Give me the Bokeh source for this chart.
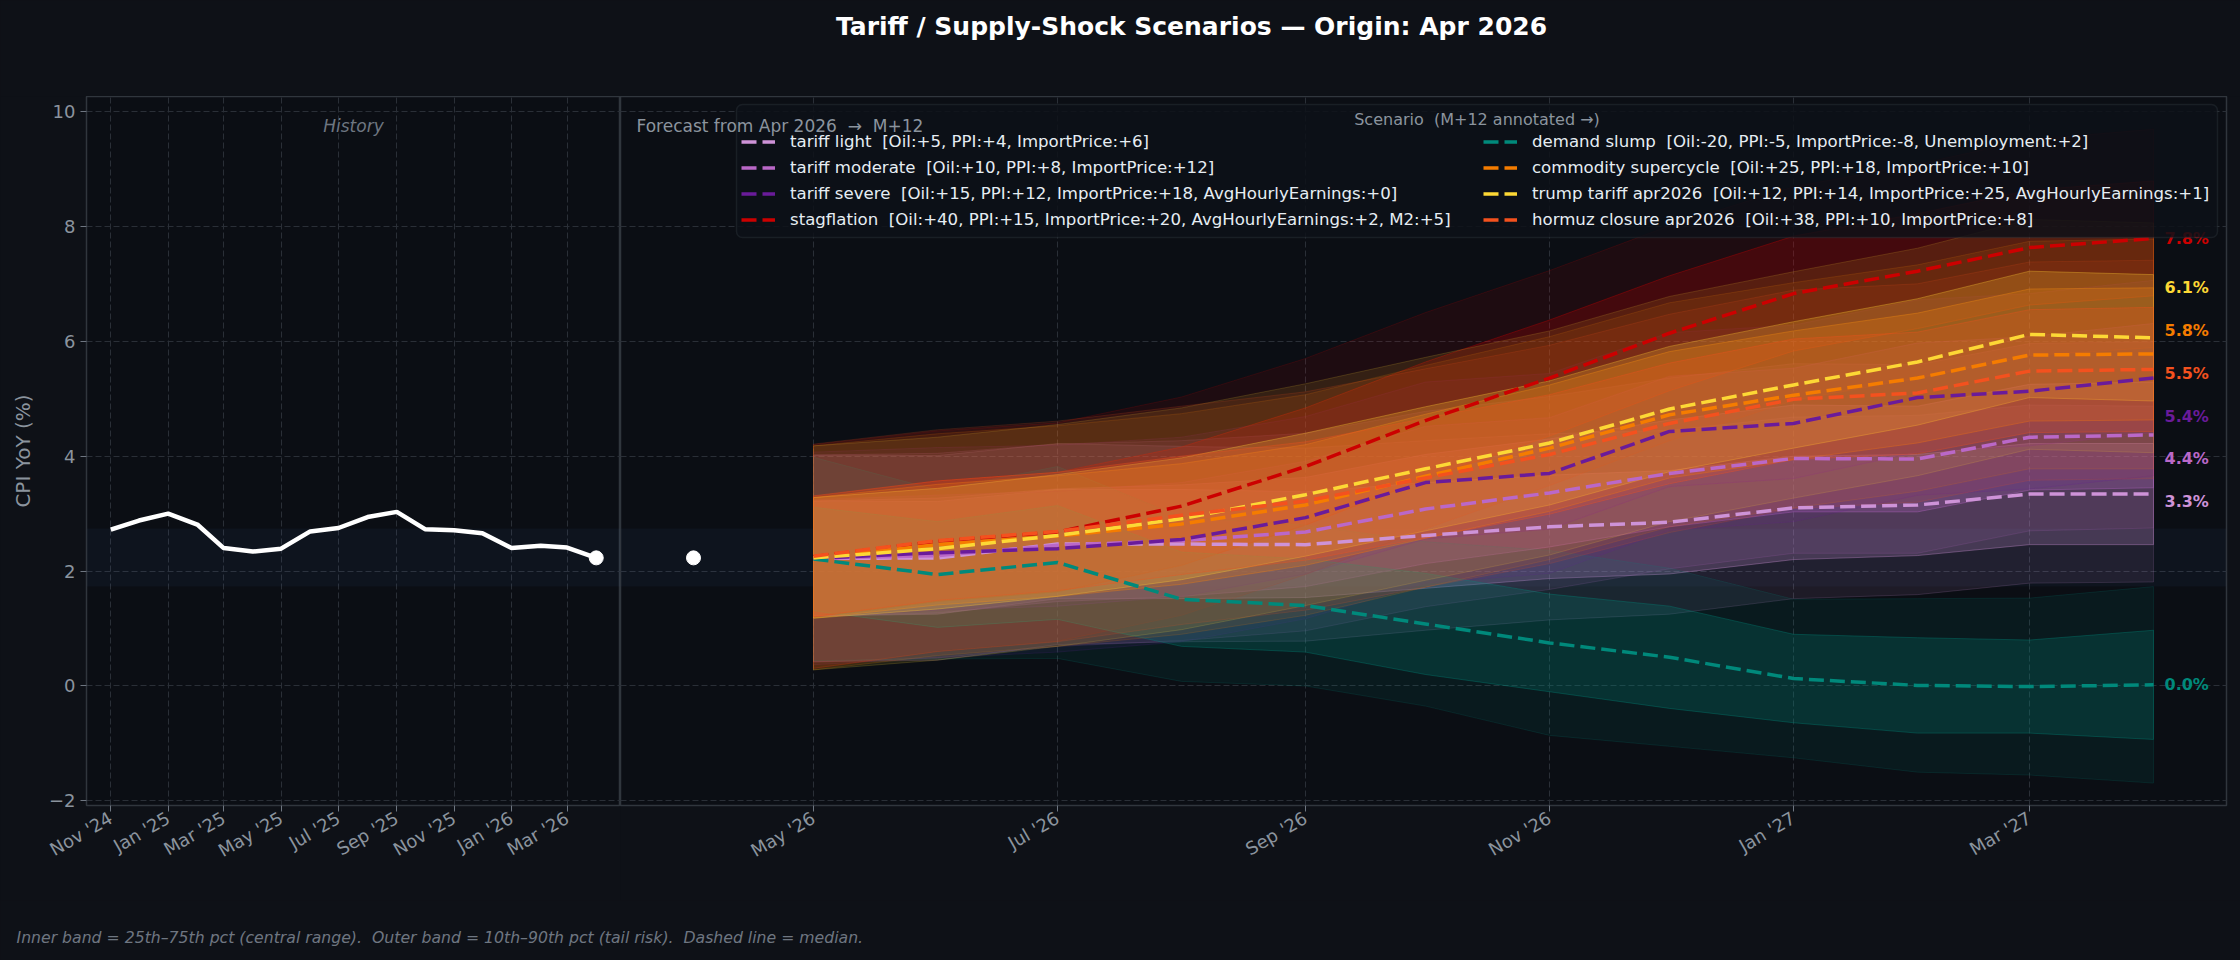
import math
from datetime import datetime
import numpy as np
from bokeh.plotting import figure
from bokeh.layouts import row, column
from bokeh.models import (Range1d, FixedTicker, DatetimeTickFormatter, Label, Legend,
                          LegendItem, BoxAnnotation, ColumnDataSource)
from bokeh.core.properties import value
from bokeh.embed import file_html
from bokeh.resources import INLINE

# ---------------- data ----------------
HIST_MONTHS = ["2024-11", "2024-12", "2025-01", "2025-02", "2025-03", "2025-04", "2025-05",
               "2025-06", "2025-07", "2025-08", "2025-09", "2025-10", "2025-11", "2025-12",
               "2026-01", "2026-02", "2026-03", "2026-04"]
HIST_CPI = [2.72, 2.88, 3.00, 2.81, 2.40, 2.34, 2.39, 2.69, 2.75, 2.94, 3.03, 2.73, 2.71, 2.66,
            2.40, 2.44, 2.41, 2.23]
ORIGIN_MONTH = "2026-04"
FC_MONTHS = ["2026-05", "2026-06", "2026-07", "2026-08", "2026-09", "2026-10", "2026-11",
             "2026-12", "2027-01", "2027-02", "2027-03", "2027-04"]
HIST_TICKS = ["2024-11", "2025-01", "2025-03", "2025-05", "2025-07", "2025-09", "2025-11",
              "2026-01", "2026-03"]
FC_TICKS = ["2026-05", "2026-07", "2026-09", "2026-11", "2027-01", "2027-03"]
Y_TICKS = [-2, 0, 2, 4, 6, 8, 10]
TARGET_BAND = [1.73, 2.74]

SCENARIOS = ["tariff light", "tariff moderate", "tariff severe", "stagflation",
             "demand slump", "commodity supercycle", "trump tariff apr2026",
             "hormuz closure apr2026"]
SHOCKS = {
    "tariff light": "Oil:+5, PPI:+4, ImportPrice:+6",
    "tariff moderate": "Oil:+10, PPI:+8, ImportPrice:+12",
    "tariff severe": "Oil:+15, PPI:+12, ImportPrice:+18, AvgHourlyEarnings:+0",
    "stagflation": "Oil:+40, PPI:+15, ImportPrice:+20, AvgHourlyEarnings:+2, M2:+5",
    "demand slump": "Oil:-20, PPI:-5, ImportPrice:-8, Unemployment:+2",
    "commodity supercycle": "Oil:+25, PPI:+18, ImportPrice:+10",
    "trump tariff apr2026": "Oil:+12, PPI:+14, ImportPrice:+25, AvgHourlyEarnings:+1",
    "hormuz closure apr2026": "Oil:+38, PPI:+10, ImportPrice:+8",
}
COLORS = {
    "tariff light": "#ce93d8",
    "tariff moderate": "#ba68c8",
    "tariff severe": "#6a1b9a",
    "stagflation": "#cc0000",
    "demand slump": "#00897b",
    "commodity supercycle": "#f57c00",
    "trump tariff apr2026": "#fdd835",
    "hormuz closure apr2026": "#f4511e",
}
# median CPI YoY path (M+1 .. M+12)
MEDIAN = {
    "tariff light":           [2.22, 2.23, 2.47, 2.47, 2.46, 2.62, 2.77, 2.85, 3.10, 3.15, 3.34, 3.34],
    "tariff moderate":        [2.22, 2.27, 2.45, 2.53, 2.68, 3.08, 3.36, 3.70, 3.96, 3.95, 4.33, 4.37],
    "tariff severe":          [2.22, 2.32, 2.39, 2.55, 2.93, 3.54, 3.70, 4.43, 4.57, 5.02, 5.13, 5.36],
    "stagflation":            [2.25, 2.52, 2.68, 3.13, 3.82, 4.62, 5.36, 6.14, 6.83, 7.22, 7.63, 7.79],
    "demand slump":           [2.21, 1.94, 2.15, 1.51, 1.40, 1.08, 0.75, 0.50, 0.13, 0.01, -0.01, 0.02],
    "commodity supercycle":   [2.23, 2.46, 2.61, 2.82, 3.15, 3.65, 4.14, 4.72, 5.06, 5.36, 5.76, 5.78],
    "trump tariff apr2026":   [2.23, 2.39, 2.62, 2.91, 3.33, 3.78, 4.23, 4.82, 5.24, 5.64, 6.12, 6.06],
    "hormuz closure apr2026": [2.26, 2.53, 2.69, 2.97, 3.22, 3.62, 4.03, 4.57, 4.99, 5.10, 5.48, 5.51],
}
# half-width of the 25th-75th pct band
INNER_HALF = {
    "tariff light":           [1.00, 0.98, 0.95, 0.95, 0.92, 0.92, 0.90, 0.90, 0.90, 0.88, 0.88, 0.88],
    "tariff moderate":        [1.00, 1.00, 0.98, 0.97, 0.95, 0.95, 0.94, 0.93, 0.93, 0.92, 0.92, 0.92],
    "tariff severe":          [1.02, 1.00, 1.00, 0.99, 0.98, 0.98, 0.97, 0.96, 0.96, 0.95, 0.95, 0.95],
    "stagflation":            [1.05, 1.05, 1.04, 1.03, 1.02, 1.02, 1.01, 1.00, 1.00, 1.00, 1.00, 1.00],
    "demand slump":           [0.90, 0.92, 0.99, 0.82, 0.81, 0.88, 0.85, 0.89, 0.77, 0.83, 0.81, 0.95],
    "commodity supercycle":   [1.05, 1.05, 1.05, 1.05, 1.05, 1.08, 1.10, 1.10, 1.12, 1.13, 1.15, 1.15],
    "trump tariff apr2026":   [1.05, 1.05, 1.06, 1.06, 1.07, 1.08, 1.08, 1.09, 1.10, 1.10, 1.10, 1.10],
    "hormuz closure apr2026": [1.05, 1.04, 1.03, 1.03, 1.03, 1.04, 1.04, 1.05, 1.05, 1.06, 1.07, 1.08],
}
# half-width of the 10th-90th pct band
OUTER_HALF = {
    "tariff light":           [1.80, 1.78, 1.75, 1.70, 1.68, 1.65, 1.62, 1.60, 1.58, 1.56, 1.55, 1.53],
    "tariff moderate":        [1.80, 1.78, 1.76, 1.74, 1.72, 1.70, 1.68, 1.66, 1.65, 1.64, 1.63, 1.62],
    "tariff severe":          [1.85, 1.83, 1.80, 1.78, 1.76, 1.75, 1.74, 1.72, 1.71, 1.70, 1.70, 1.70],
    "stagflation":            [1.95, 1.92, 1.90, 1.90, 1.88, 1.88, 1.87, 1.87, 1.86, 1.86, 1.88, 1.90],
    "demand slump":           [1.77, 1.47, 1.67, 1.43, 1.40, 1.43, 1.61, 1.55, 1.38, 1.51, 1.54, 1.71],
    "commodity supercycle":   [1.95, 1.93, 1.92, 1.92, 1.92, 1.93, 1.94, 1.95, 1.96, 1.97, 1.98, 2.00],
    "trump tariff apr2026":   [1.95, 1.94, 1.93, 1.93, 1.93, 1.94, 1.95, 1.96, 1.97, 1.98, 2.00, 2.00],
    "hormuz closure apr2026": [1.95, 1.93, 1.92, 1.90, 1.90, 1.90, 1.90, 1.90, 1.90, 1.90, 1.90, 1.90],
}

TITLE = "Tariff / Supply-Shock Scenarios \u2014 Origin: Apr 2026"
FOOTNOTE = ("Inner band = 25th\u201375th pct (central range).  Outer band = 10th\u201390th pct "
            "(tail risk).  Dashed line = median.")
FORECAST_NOTE = "Forecast from Apr 2026  \u2192  M+12"
LEGEND_TITLE = "Scenario  (M+12 annotated \u2192)"

# ---------------- style ----------------
FONT = "DejaVu Sans"
BG_OUT = "#0e1117"
BG_IN = "#0b0e14"
SPINE = "#30363d"
GRID = "#2a2f37"
TICK_TXT = "#8b949e"
MUTED = "#6e7681"
DASH = "15 6"
PAGE_BG = {"background-color": BG_OUT}


def keep_spaces(s):
    # SVG collapses runs of spaces; keep the double spacing of the original
    return s.replace("  ", " \u00a0")


def month(s):
    y, m = s.split("-")
    return datetime(int(y), int(m), 1)


def ms(d):
    return (d - datetime(1970, 1, 1)).total_seconds() * 1000.0


hist_dates = [month(s) for s in HIST_MONTHS]
fc_dates = [month(s) for s in FC_MONTHS]
origin = month(ORIGIN_MONTH)

y_range = Range1d(-2.08, 10.26)
hspan = hist_dates[-1] - hist_dates[0]
x_hist = Range1d(hist_dates[0] - hspan * 0.05, hist_dates[-1] + hspan * 0.05)
fspan = fc_dates[-1] - origin
x_fc = Range1d(origin - fspan * 0.05, fc_dates[-1] + fspan * 0.05)

fmt = "%b '%y"
date_fmt = DatetimeTickFormatter(microseconds=fmt, milliseconds=fmt, seconds=fmt, minsec=fmt,
                                 minutes=fmt, hourmin=fmt, hours=fmt, days=fmt, months=fmt,
                                 years=fmt)


def style(p, ticks):
    p.background_fill_color = BG_IN
    p.border_fill_color = BG_OUT
    p.outline_line_color = SPINE
    p.outline_line_width = 1.5
    tk = FixedTicker(ticks=[ms(month(t)) for t in ticks])
    p.xaxis.ticker = tk
    p.xgrid.ticker = tk
    p.xaxis.formatter = date_fmt
    p.xaxis.major_label_orientation = math.pi / 6
    for ax in p.axis:
        ax.axis_line_color = None
        ax.major_tick_line_color = MUTED
        ax.major_tick_out = 6
        ax.major_tick_in = 0
        ax.minor_tick_line_color = None
        ax.major_label_text_color = TICK_TXT
        ax.major_label_text_font = FONT
        ax.major_label_text_font_size = "18px"
    for g in (p.xgrid, p.ygrid):
        g.grid_line_color = GRID
        g.grid_line_dash = "6 3"
        g.grid_line_width = 1
    yt = FixedTicker(ticks=Y_TICKS)
    p.ygrid.ticker = yt
    return yt


def blank(width, height):
    f = figure(width=width, height=height, output_backend="svg", toolbar_location=None,
               x_axis_location=None, y_axis_location=None, min_border=0,
               x_range=Range1d(0, 1), y_range=Range1d(0, 1), styles=PAGE_BG)
    f.grid.visible = False
    f.outline_line_color = None
    f.background_fill_color = BG_OUT
    f.border_fill_color = BG_OUT
    return f


MAIN_H = 804

# ---------------- title strip ----------------
tfig = blank(2240, 96)
tfig.add_layout(Label(x=1191, y=70, x_units="screen", y_units="screen", text=TITLE,
                      text_align="center", text_baseline="middle", text_font=FONT,
                      text_font_style="bold", text_font_size="25px", text_color="white"))

# ---------------- history panel ----------------
p1 = figure(width=620, height=MAIN_H, x_axis_type="datetime", x_range=x_hist, y_range=y_range,
            output_backend="svg", toolbar_location=None, min_border_left=86,
            min_border_right=0, min_border_top=0, min_border_bottom=MAIN_H - 709,
            styles=PAGE_BG)
yt = style(p1, HIST_TICKS)
p1.yaxis.ticker = yt
p1.yaxis.major_label_overrides = {-2: "\u22122"}
p1.yaxis.axis_label = "CPI YoY (%)"
p1.yaxis.axis_label_text_font = FONT
p1.yaxis.axis_label_text_font_style = "normal"
p1.yaxis.axis_label_text_font_size = "20px"
p1.yaxis.axis_label_text_color = TICK_TXT
p1.yaxis.axis_label_standoff = 11

p1.add_layout(BoxAnnotation(bottom=TARGET_BAND[0], top=TARGET_BAND[1], fill_color="#58a6ff",
                            fill_alpha=0.045, line_color=None, level="underlay"))
p1.line(hist_dates, HIST_CPI, line_color="white", line_width=4.5)
p1.scatter([hist_dates[-1]], [HIST_CPI[-1]], size=14, color="white")

p1.add_layout(Label(x=267, y=680, x_units="screen", y_units="screen", text="History",
                    text_align="center", text_baseline="middle", text_font=FONT,
                    text_font_style="italic", text_font_size="17px", text_color=MUTED))

# ---------------- forecast panel ----------------
p2 = figure(width=1620, height=MAIN_H, x_axis_type="datetime", x_range=x_fc, y_range=y_range,
            output_backend="svg", toolbar_location=None, y_axis_location=None,
            min_border_left=0, min_border_right=14, min_border_top=0,
            min_border_bottom=MAIN_H - 709, styles=PAGE_BG)
style(p2, FC_TICKS)
p2.add_layout(BoxAnnotation(bottom=TARGET_BAND[0], top=TARGET_BAND[1], fill_color="#58a6ff",
                            fill_alpha=0.045, line_color=None, level="underlay"))

xs_poly = fc_dates + fc_dates[::-1]
for s in SCENARIOS:
    c = COLORS[s]
    med = np.array(MEDIAN[s])
    ih = np.array(INNER_HALF[s])
    oh = np.array(OUTER_HALF[s])
    p2.patch(xs_poly, list(med + oh) + list((med - oh)[::-1]), fill_color=c, fill_alpha=0.10,
             line_color=c, line_alpha=0.16, line_width=1)
    p2.patch(xs_poly, list(med + ih) + list((med - ih)[::-1]), fill_color=c, fill_alpha=0.22,
             line_color=c, line_alpha=0.35, line_width=1)

lines = {}
for s in SCENARIOS:
    lines[s] = p2.line(fc_dates, MEDIAN[s], line_color=COLORS[s], line_width=3.5,
                       line_dash=DASH)

p2.scatter([origin], [HIST_CPI[-1]], size=14, color="white")


# end-of-horizon labels, spread so they do not overlap
def spread(vals, gap):
    order = sorted(range(len(vals)), key=lambda i: vals[i])
    groups = [[i] for i in order]

    def place(g):
        c = sum(vals[i] for i in g) / len(g)
        return [c + (k - (len(g) - 1) / 2) * gap for k in range(len(g))]

    changed = True
    while changed:
        changed = False
        for a in range(len(groups) - 1):
            if place(groups[a])[-1] + gap > place(groups[a + 1])[0]:
                groups[a] = groups[a] + groups[a + 1]
                del groups[a + 1]
                changed = True
                break
    out = [0.0] * len(vals)
    for g in groups:
        for i, y in zip(g, place(g)):
            out[i] = y
    return out


finals = [MEDIAN[s][-1] for s in SCENARIOS]
label_y = spread(finals, 0.745)
lab_src = ColumnDataSource(dict(
    x=[fc_dates[-1]] * len(SCENARIOS), y=label_y,
    text=[f"{v:.1f}%" for v in finals], color=[COLORS[s] for s in SCENARIOS]))
p2.text(x="x", y="y", text="text", source=lab_src, text_color="color", x_offset=11,
        text_align="left", text_baseline="middle", text_font=value(FONT),
        text_font_style="bold", text_font_size="16px")

# legend frame + title + two columns
p2.add_layout(BoxAnnotation(left=116, right=1597, bottom=568, top=701, left_units="screen",
                            right_units="screen", bottom_units="screen", top_units="screen",
                            fill_color="#0d1117", fill_alpha=0.85, line_color="#3d444d",
                            line_width=1.5, border_radius=6))
p2.add_layout(Label(x=856.5, y=686.4, x_units="screen", y_units="screen",
                    text=keep_spaces(LEGEND_TITLE), text_align="center",
                    text_baseline="middle", text_font=FONT, text_font_size="16px",
                    text_color=TICK_TXT))
p2.add_layout(Label(x=16, y=680, x_units="screen", y_units="screen",
                    text=keep_spaces(FORECAST_NOTE), text_align="left",
                    text_baseline="middle", text_font=FONT, text_font_size="17px",
                    text_color=TICK_TXT))


def make_legend(names, loc):
    return Legend(items=[LegendItem(label=keep_spaces(f"{s}  [{SHOCKS[s]}]"),
                                    renderers=[lines[s]]) for s in names],
                  location=loc, orientation="vertical", padding=0, margin=0, spacing=3,
                  label_height=23, glyph_height=23, glyph_width=34, label_standoff=15,
                  background_fill_alpha=0, border_line_color=None,
                  label_text_font=FONT, label_text_font_size="16.6px",
                  label_text_color="#e6edf3")


p2.add_layout(make_legend(SCENARIOS[:4], (121, 574.5)))
p2.add_layout(make_legend(SCENARIOS[4:], (863, 574.5)))

# ---------------- footnote strip ----------------
ffig = blank(2240, 960 - 96 - MAIN_H)
ffig.add_layout(Label(x=16, y=23, x_units="screen", y_units="screen",
                      text=keep_spaces(FOOTNOTE), text_align="left", text_baseline="middle",
                      text_font=FONT, text_font_style="italic", text_font_size="15.7px",
                      text_color=MUTED))

layout = column(tfig, row(p1, p2, styles=PAGE_BG), ffig, styles=PAGE_BG)
open("out.html", "w").write(file_html(layout, INLINE))
